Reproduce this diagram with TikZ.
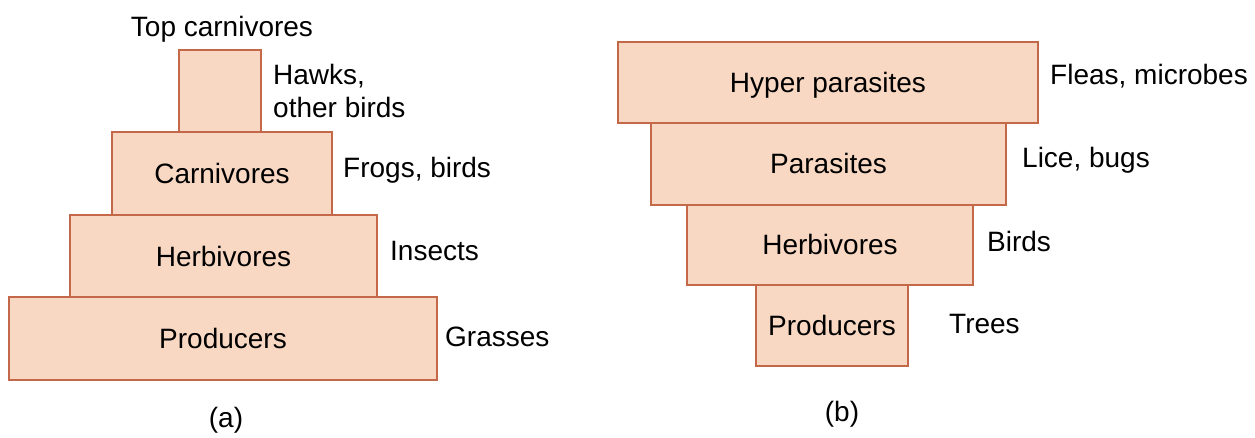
\documentclass[tikz,border=0pt]{standalone}
\usepackage{fontspec}
\setmainfont{Liberation Sans}
\definecolor{boxline}{RGB}{196,104,74}
\definecolor{boxfill}{RGB}{249,216,195}
\newcommand{\lbl}{\fontsize{28}{33}\selectfont}
\begin{document}
\begin{tikzpicture}[x=1pt,y=-1pt,
  layer/.style={draw=boxline, fill=boxfill, line width=1.8pt, inner sep=0pt,
                text height=20pt, text depth=0pt, font=\lbl},
  side/.style={font=\lbl, inner sep=0pt, anchor=base west},
  captxt/.style={font=\lbl, inner sep=0pt, anchor=base}]
\useasboundingbox (0,0) rectangle (1255,438);
% (a) pyramid
\node[layer, minimum width=82pt, minimum height=82pt] (topc) at (220,91) {};
\node[layer, minimum width=220pt, minimum height=83pt] (carn) at (222,173.5) {Carnivores};
\node[layer, minimum width=307pt, minimum height=82pt] (herba) at (223.5,256) {Herbivores};
\node[layer, minimum width=428pt, minimum height=83pt] (proda) at (223,338.5) {Producers};
\node[captxt] (toplbl) at (222,37) {Top carnivores};
\node[side] (hawks) at (273,85) {Hawks,};
\node[side] (other) at (273,118) {other birds};
\node[side] (frogs) at (343,178) {Frogs, birds};
\node[side] (insects) at (390,261) {Insects};
\node[side] (grasses) at (445,346) {Grasses};
\node[captxt] (capa) at (226,427) {(a)};
% (b) pyramid
\node[layer, minimum width=420pt, minimum height=81pt] (hyper) at (828,82.5) {Hyper parasites};
\node[layer, minimum width=355pt, minimum height=82pt] (para) at (828.5,164) {Parasites};
\node[layer, minimum width=286pt, minimum height=80pt] (herbb) at (830,245) {Herbivores};
\node[layer, minimum width=152pt, minimum height=81pt] (prodb) at (832,325.5) {Producers};
\node[side] (fleas) at (1050,85) {Fleas, microbes};
\node[side] (lice) at (1022,168) {Lice, bugs};
\node[side] (birds) at (987,252) {Birds};
\node[side] (trees) at (949,333) {Trees};
\node[captxt] (capb) at (842,421) {(b)};
\end{tikzpicture}
\end{document}
